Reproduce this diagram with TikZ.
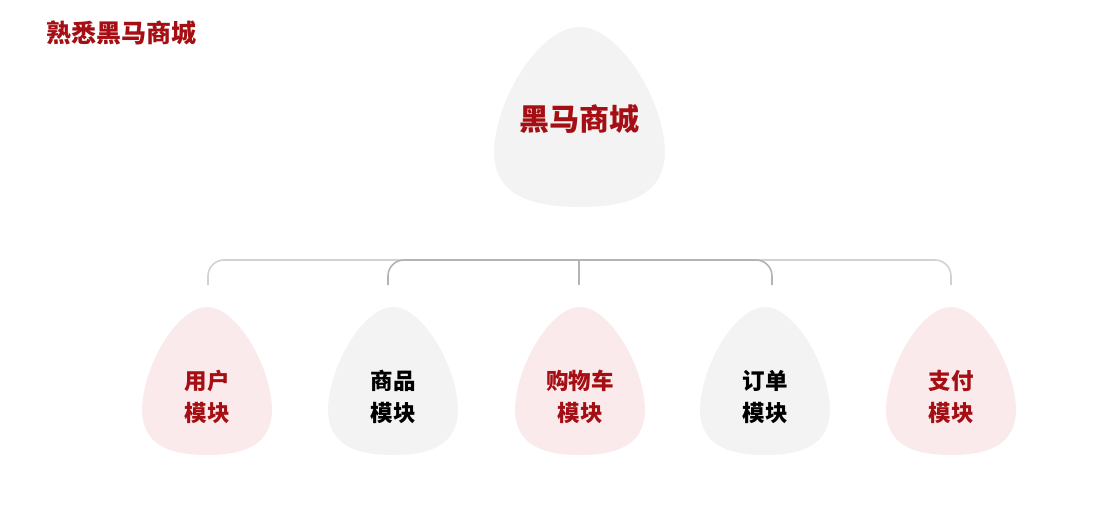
\documentclass[tikz,border=0pt]{standalone}
\usepackage{fontspec}
\setmainfont{Noto Sans CJK SC}
\definecolor{brandred}{HTML}{A50F14}
\definecolor{pinkfill}{HTML}{FBEAEC}
\definecolor{grayfill}{HTML}{F3F3F3}
\definecolor{lightline}{HTML}{D2D2D2}
\definecolor{darkline}{HTML}{B4B4B4}
\newcommand{\eggfill}[5]{% #1 colour, #2 cx, #3 cy, #4 half width, #5 half height
  \fill[#1] ({#2},{#3-#5})
    .. controls ({#2+0.45*#4},{#3-#5}) and ({#2+0.98*#4},{#3-0.22*#5}) .. ({#2+#4},{#3+0.38*#5})
    .. controls ({#2+#4},{#3+0.85*#5}) and ({#2+0.6*#4},{#3+#5}) .. ({#2},{#3+#5})
    .. controls ({#2-0.6*#4},{#3+#5}) and ({#2-#4},{#3+0.85*#5}) .. ({#2-#4},{#3+0.38*#5})
    .. controls ({#2-0.98*#4},{#3-0.22*#5}) and ({#2-0.45*#4},{#3-#5}) .. ({#2},{#3-#5}) -- cycle;}
\tikzset{
  title/.style={font=\fontsize{25}{29}\selectfont\bfseries, text=brandred, anchor=west, inner sep=0pt},
  toptext/.style={font=\fontsize{30}{35}\selectfont\bfseries, text=brandred, inner sep=0pt},
  modred/.style={font=\fontsize{22.5}{32}\selectfont\bfseries, text=brandred, align=center, inner sep=0pt},
  modblack/.style={font=\fontsize{22.5}{32}\selectfont\bfseries, text=black, align=center, inner sep=0pt},
  lightconn/.style={draw=lightline, line width=1.6pt, rounded corners=16pt},
  darkconn/.style={draw=darkline, line width=1.6pt, rounded corners=16pt},
}
\begin{document}
\begin{tikzpicture}[x=1pt,y=-1pt]
\useasboundingbox[fill=white] (0,0) rectangle (1098,511);
% title
\node[title] (title) at (46,33) {熟悉黑马商城};
% egg backgrounds
\eggfill{grayfill}{579.5}{117}{85.5}{90}
\eggfill{pinkfill}{207}{381}{65}{74}
\eggfill{grayfill}{393}{381}{65}{74}
\eggfill{pinkfill}{580}{381}{65}{74}
\eggfill{grayfill}{765}{381}{65}{74}
\eggfill{pinkfill}{951}{381}{65}{74}
% texts
\node[toptext] (top) at (579.5,119) {黑马商城};
\node[modred]   (m1) at (207,397) {用户\\模块};
\node[modblack] (m2) at (393,397) {商品\\模块};
\node[modred]   (m3) at (580,397) {购物车\\模块};
\node[modblack] (m4) at (765,397) {订单\\模块};
\node[modred]   (m5) at (951,397) {支付\\模块};
% connector coordinates
\coordinate (d1) at (208,285);
\coordinate (d2) at (388,285);
\coordinate (d3) at (579,285);
\coordinate (d4) at (772,285);
\coordinate (d5) at (951,285);
\coordinate (j1) at (208,260);
\coordinate (j2) at (388,260);
\coordinate (j3) at (579,260);
\coordinate (j4) at (772,260);
\coordinate (j5) at (951,260);
\draw[lightconn] (d1) -- (j1) -- (j5) -- (d5);
\draw[darkconn] (d2) -- (j2) -- (j4) -- (d4);
\draw[darkconn] (d3) -- (j3);
\end{tikzpicture}
\end{document}
